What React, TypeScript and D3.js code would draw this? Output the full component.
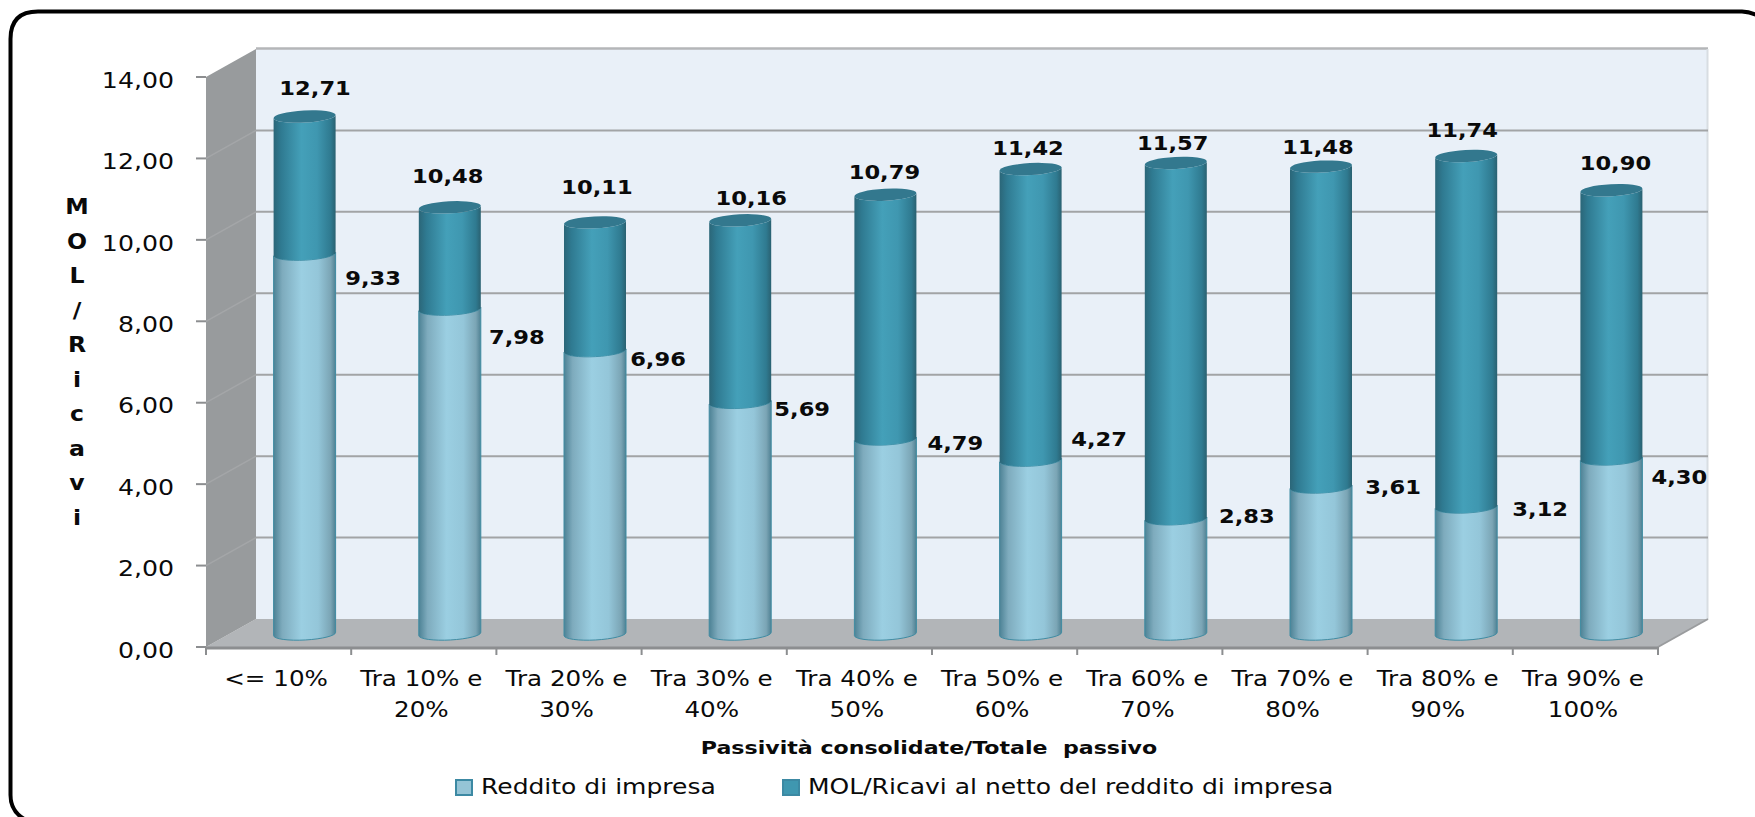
import React from "react";
import * as d3 from "d3";

// Values of the two stacked series, by class of consolidated liabilities.
const categories = [
  ["<= 10%"],
  ["Tra 10% e", "20%"],
  ["Tra 20% e", "30%"],
  ["Tra 30% e", "40%"],
  ["Tra 40% e", "50%"],
  ["Tra 50% e", "60%"],
  ["Tra 60% e", "70%"],
  ["Tra 70% e", "80%"],
  ["Tra 80% e", "90%"],
  ["Tra 90% e", "100%"],
];
const redditoImpresa = [9.33, 7.98, 6.96, 5.69, 4.79, 4.27, 2.83, 3.61, 3.12, 4.3];
const molRicavi = [12.71, 10.48, 10.11, 10.16, 10.79, 11.42, 11.57, 11.48, 11.74, 10.9];
const yTicks = [0, 2, 4, 6, 8, 10, 12, 14];
const yTitle = ["M", "O", "L", "/", "R", "i", "c", "a", "v", "i"];
const xTitle = "Passività consolidate/Totale  passivo";
const legendItems = ["Reddito di impresa", "MOL/Ricavi al netto del reddito di impresa"];

// Hand-placed data label nudges, relative to each bar's centre and segment top.
const topNudgeX = [10.5, -2, 2, 11, -1, -2.5, -3, -3, -4, 4];
const topNudgeY = [-29, -31, -35, -22, -23, -21, -20, -20, -26, -27];
const lowNudgeX = [68.5, 67, 63, 62, 70, 68.5, 71, 72, 74, 68];
const lowNudgeY = [24, 28, 8, 7, 4, -21, -3, 0, 2, 18];

const FONT = "'DejaVu Sans', sans-serif";
const fmt = (v: number) => v.toFixed(2).replace(".", ",");

const frontLeft = 206;
const frontRight = 1658;
const depthX = 50;
const depthY = 28;
const y0 = 647;
const y14 = 77;
const backRight = 1708;
const rx = 31;
const ry = 6;
const tilt = 1.7;

const yScale = d3.scaleLinear().domain([0, 14]).range([y0, y14]);
const xScale = d3
  .scaleBand<number>()
  .domain(d3.range(categories.length))
  .range([frontLeft, frontRight]);

// Horizontally widened text, as the chart's lettering is drawn.
function T(props: {
  x: number;
  y: number;
  size: number;
  bold?: boolean;
  anchor?: string;
  sx?: number;
  children: React.ReactNode;
}) {
  const { x, y, size, bold, anchor = "middle", sx = 1.13, children } = props;
  return (
    <text
      transform={`translate(${x},${y}) scale(${sx},1)`}
      fontFamily={FONT}
      fontSize={size}
      fontWeight={bold ? 700 : 400}
      textAnchor={anchor}
      dominantBaseline="central"
      fill="#0a0a0a"
      xmlSpace="preserve"
    >
      {children}
    </text>
  );
}

// One cylinder segment between two values; the cap is only drawn on the top one.
function Segment(props: { cx: number; from: number; to: number; fill: string; cap?: string; base?: boolean }) {
  const { cx, from, to, fill, cap, base } = props;
  const shift = -13;
  const yTop = yScale(to) + shift;
  const yBot = yScale(from) + shift;
  const l = cx - rx;
  const r = cx + rx;
  const d =
    `M${l},${yTop + tilt}L${l},${yBot + tilt}` +
    `A${rx},${ry} -3 0 0 ${r},${yBot - tilt}` +
    `L${r},${yTop - tilt}` +
    `A${rx},${ry} -3 0 1 ${l},${yTop + tilt}Z`;
  const capD =
    `M${l},${yTop + tilt}A${rx},${ry} -3 0 1 ${r},${yTop - tilt}` +
    `A${rx},${ry} -3 0 1 ${l},${yTop + tilt}Z`;
  return (
    <g>
      <path d={d} fill={fill} stroke={base ? "#3f8ca3" : "none"} strokeWidth={base ? 1 : 0} />
      {cap && <path d={capD} fill={cap} />}
    </g>
  );
}

export default function App() {
  const band = (i: number) => (xScale(i) as number) + xScale.bandwidth() / 2;
  const centre = (i: number) => band(i) + 26;
  return (
    <svg
      width={1755}
      height={817}
      style={{ position: "absolute", left: 0, top: 0, display: "block", background: "#fff" }}
    >
      <defs>
        <linearGradient id="dark" x1="0" x2="1" y1="0" y2="0">
          <stop offset="0" stopColor="#2b6678" />
          <stop offset="0.12" stopColor="#2f7a91" />
          <stop offset="0.45" stopColor="#44a0b9" />
          <stop offset="0.7" stopColor="#3f97b0" />
          <stop offset="0.92" stopColor="#2f7a90" />
          <stop offset="1" stopColor="#2a6171" />
        </linearGradient>
        <linearGradient id="light" x1="0" x2="1" y1="0" y2="0">
          <stop offset="0" stopColor="#4d8295" />
          <stop offset="0.14" stopColor="#7eabbd" />
          <stop offset="0.45" stopColor="#9bcfe2" />
          <stop offset="0.72" stopColor="#94c6d9" />
          <stop offset="0.92" stopColor="#7ba5b5" />
          <stop offset="1" stopColor="#4f8193" />
        </linearGradient>
      </defs>

      {/* rounded outer frame, cut off by the right and bottom edges */}
      <path
        d="M1760,17Q1752,12 1742,11.5H38Q10.5,11.5 10.5,39V795Q10.5,812 26,820"
        fill="none"
        stroke="#000"
        strokeWidth={4}
      />

      {/* back wall, floor and side wall of the 3D plot box */}
      <rect x={frontLeft + depthX} y={y14 - depthY} width={backRight - frontLeft - depthX} height={y0 - y14} fill="#e9f0f8" />
      <line x1={frontLeft + depthX} x2={backRight} y1={y14 - depthY - 0.5} y2={y14 - depthY - 0.5} stroke="#b4b6b8" strokeWidth={2.5} />
      <line x1={backRight - 0.5} x2={backRight - 0.5} y1={y14 - depthY} y2={y0 - depthY} stroke="#d8dde2" strokeWidth={2} />
      <polygon
        points={`${frontLeft},${y0} ${frontLeft + depthX},${y0 - depthY} ${backRight},${y0 - depthY} ${frontRight},${y0}`}
        fill="#b2b5b8"
      />
      <polygon
        points={`${frontLeft},${y0} ${frontLeft},${y14} ${frontLeft + depthX},${y14 - depthY} ${frontLeft + depthX},${y0 - depthY}`}
        fill="#989b9d"
      />

      {/* gridlines on the back wall continuing down the side wall */}
      {yTicks.slice(1, -1).map((t) => (
        <g key={t}>
          <line x1={frontLeft + depthX} x2={backRight} y1={yScale(t) - depthY} y2={yScale(t) - depthY} stroke="#a2a4a6" strokeWidth={2} />
          <line x1={frontLeft} x2={frontLeft + depthX} y1={yScale(t)} y2={yScale(t) - depthY} stroke="#a4a6a8" strokeWidth={1.5} />
        </g>
      ))}
      <line x1={frontRight} x2={backRight} y1={y0} y2={y0 - depthY} stroke="#9a9c9e" strokeWidth={2} />

      {/* axes: ticks and labels */}
      <line x1={frontLeft - 1} x2={frontRight} y1={y0 + 1} y2={y0 + 1} stroke="#8c8e90" strokeWidth={3} />
      {yTicks.map((t) => (
        <g key={t}>
          <line x1={frontLeft - 10} x2={frontLeft} y1={yScale(t)} y2={yScale(t)} stroke="#8c8e90" strokeWidth={2} />
          <T x={frontLeft - 32} y={yScale(t) + 3} size={21} sx={1.2} anchor="end">
            {fmt(t)}
          </T>
        </g>
      ))}
      {[...d3.range(categories.length).map((i) => xScale(i) as number), frontRight].map((x) => (
        <line key={x} x1={x} x2={x} y1={y0} y2={y0 + 8} stroke="#8c8e90" strokeWidth={2} />
      ))}
      {categories.map((lines, i) => (
        <g key={i}>
          {lines.map((s, j) => (
            <T key={j} x={band(i) - 2.5} y={679 + j * 31} size={20.5} sx={1.2}>
              {s}
            </T>
          ))}
        </g>
      ))}

      {/* stacked cylinders */}
      {categories.map((_, i) => (
        <g key={i}>
          <Segment cx={centre(i)} from={0} to={redditoImpresa[i]} fill="url(#light)" base />
          <Segment cx={centre(i)} from={redditoImpresa[i]} to={molRicavi[i]} fill="url(#dark)" cap="#33788e" />
        </g>
      ))}

      {/* value labels */}
      {categories.map((_, i) => (
        <g key={i}>
          <T x={centre(i) + topNudgeX[i]} y={yScale(molRicavi[i]) - 13 + topNudgeY[i]} size={20} bold sx={1.13}>
            {fmt(molRicavi[i])}
          </T>
          <T x={centre(i) + lowNudgeX[i]} y={yScale(redditoImpresa[i]) - 13 + lowNudgeY[i]} size={20} bold sx={1.13}>
            {fmt(redditoImpresa[i])}
          </T>
        </g>
      ))}

      {/* axis titles */}
      {yTitle.map((c, i) => (
        <T key={i} x={77} y={207 + i * 34.5} size={20.5} bold sx={1.15}>
          {c}
        </T>
      ))}
      <T x={929} y={748} size={18.5} bold sx={1.195}>
        {xTitle}
      </T>

      {/* legend */}
      <rect x={456} y={780} width={16} height={15} fill="#95c4d6" stroke="#3c89a3" strokeWidth={2} />
      <T x={481} y={787} size={20.5} sx={1.22} anchor="start">
        {legendItems[0]}
      </T>
      <rect x={783} y={780} width={16} height={15} fill="#3f97b0" stroke="#3c89a3" strokeWidth={2} />
      <T x={808} y={787} size={20.5} sx={1.22} anchor="start">
        {legendItems[1]}
      </T>
    </svg>
  );
}
